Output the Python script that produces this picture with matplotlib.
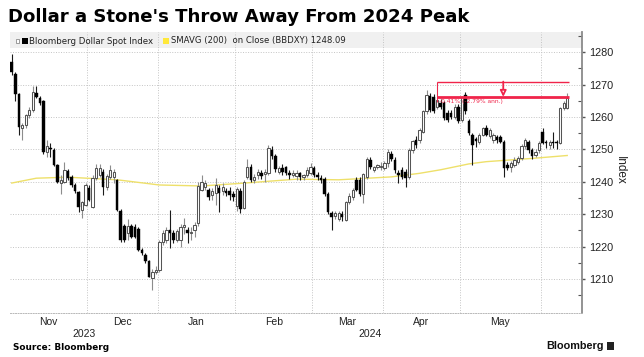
import matplotlib
matplotlib.use("Agg")
import matplotlib.pyplot as plt
from matplotlib.patches import Rectangle
from matplotlib.transforms import blended_transform_factory

# ---------------- data ----------------
opens = [1277.0, 1273.3, 1267.1, 1256.5, 1257.6, 1260.6, 1262.0, 1267.5, 1265.9, 1264.8,
         1249.3, 1250.5, 1249.8, 1245.2, 1239.6, 1240.0, 1243.4, 1241.6, 1239.0, 1236.7,
         1231.3, 1232.9, 1238.1, 1232.3, 1241.2, 1242.0, 1243.1, 1238.5, 1241.6, 1241.5,
         1240.6, 1231.1, 1226.4, 1224.1, 1226.4, 1226.0, 1225.4, 1219.0, 1217.4, 1215.4,
         1210.2, 1212.3, 1212.8, 1221.5, 1222.0, 1225.1, 1224.3, 1222.0, 1222.0, 1226.0,
         1225.1, 1224.3, 1225.1, 1227.2, 1237.5, 1238.5, 1237.5, 1236.0, 1236.5, 1238.0,
         1237.0, 1237.0, 1237.0, 1236.2, 1232.5, 1237.0, 1231.9, 1241.6, 1244.7, 1240.6,
         1242.0, 1242.8, 1242.5, 1242.7, 1249.8, 1247.8, 1243.1, 1244.2, 1244.5, 1242.6,
         1242.1, 1241.8, 1242.6, 1241.6, 1242.1, 1242.6, 1244.2, 1242.1, 1241.3, 1240.8,
         1236.2, 1230.3, 1229.5, 1228.6, 1230.1, 1228.3, 1233.6, 1235.4, 1240.6, 1240.6,
         1236.3, 1241.6, 1246.8, 1243.6, 1244.6, 1244.4, 1244.2, 1245.7, 1248.6, 1246.8,
         1242.6, 1243.7, 1243.1, 1241.6, 1249.8, 1252.9, 1252.9, 1255.5, 1261.7, 1266.5,
         1266.3, 1263.2, 1264.3, 1264.3, 1261.2, 1261.2, 1260.1, 1263.2, 1259.0, 1266.8,
         1258.6, 1254.5, 1253.1, 1252.4, 1254.5, 1256.5, 1254.0, 1252.9, 1253.8, 1253.8,
         1252.4, 1245.2, 1244.5, 1245.2, 1246.2, 1247.3, 1250.9, 1252.4, 1249.8, 1248.3,
         1249.8, 1255.5, 1252.4, 1251.4, 1252.2, 1252.4, 1251.9, 1262.7, 1262.7]
highs = [1279.5, 1274.0, 1267.5, 1258.0, 1261.0, 1263.2, 1269.4, 1269.5, 1266.5, 1265.2,
         1253.0, 1252.0, 1250.5, 1245.5, 1242.0, 1246.2, 1244.0, 1242.0, 1239.5, 1237.0,
         1234.0, 1239.5, 1239.0, 1242.0, 1245.5, 1245.5, 1244.0, 1242.5, 1245.2, 1244.0,
         1241.0, 1231.5, 1227.0, 1228.5, 1227.0, 1227.0, 1226.0, 1219.5, 1218.0, 1216.0,
         1213.0, 1214.0, 1222.0, 1225.0, 1226.0, 1231.3, 1225.0, 1225.5, 1227.0, 1228.8,
         1226.0, 1226.0, 1227.5, 1240.0, 1242.1, 1240.6, 1238.0, 1238.0, 1241.1, 1239.0,
         1239.5, 1238.0, 1238.5, 1237.0, 1238.5, 1238.0, 1240.5, 1247.0, 1245.5, 1242.5,
         1244.0, 1243.5, 1244.0, 1251.4, 1251.0, 1248.5, 1245.0, 1245.5, 1245.0, 1243.5,
         1243.5, 1243.5, 1243.0, 1242.5, 1244.5, 1245.7, 1245.0, 1243.0, 1242.0, 1241.5,
         1236.8, 1231.0, 1231.0, 1231.0, 1231.0, 1234.0, 1236.5, 1238.0, 1241.5, 1241.5,
         1242.8, 1247.5, 1247.5, 1245.0, 1245.6, 1246.0, 1246.5, 1250.0, 1249.5, 1247.5,
         1243.5, 1244.5, 1243.8, 1250.5, 1253.0, 1254.0, 1256.5, 1262.0, 1268.4, 1267.5,
         1267.0, 1270.9, 1265.5, 1265.0, 1262.0, 1262.0, 1264.0, 1264.0, 1266.5, 1267.8,
         1259.5, 1255.0, 1253.8, 1255.0, 1257.0, 1257.5, 1256.5, 1255.0, 1254.5, 1254.5,
         1253.0, 1246.0, 1246.5, 1247.5, 1248.0, 1251.5, 1253.5, 1253.0, 1250.5, 1250.0,
         1252.5, 1256.5, 1253.0, 1253.0, 1255.5, 1253.0, 1263.0, 1265.0, 1267.3]
lows = [1273.0, 1265.0, 1254.5, 1253.0, 1256.5, 1259.8, 1261.5, 1265.8, 1263.8, 1248.5,
        1247.5, 1247.5, 1245.0, 1239.5, 1236.3, 1239.5, 1240.5, 1238.5, 1236.5, 1230.8,
        1228.9, 1232.5, 1234.0, 1232.0, 1240.5, 1241.5, 1236.0, 1237.5, 1240.8, 1239.5,
        1231.0, 1221.5, 1221.5, 1222.0, 1222.5, 1222.5, 1218.5, 1217.5, 1215.0, 1210.5,
        1206.6, 1211.5, 1212.3, 1220.5, 1221.0, 1219.5, 1221.0, 1221.5, 1220.0, 1224.0,
        1221.0, 1222.0, 1223.0, 1226.5, 1237.0, 1237.5, 1234.5, 1234.5, 1232.9, 1230.8,
        1236.0, 1235.5, 1234.5, 1234.0, 1231.0, 1230.5, 1231.5, 1241.0, 1240.0, 1239.5,
        1241.0, 1241.0, 1240.0, 1242.0, 1247.0, 1243.0, 1242.5, 1242.0, 1242.0, 1241.0,
        1241.5, 1240.5, 1240.5, 1240.5, 1241.5, 1242.0, 1241.5, 1240.5, 1239.5, 1235.5,
        1230.0, 1225.2, 1228.5, 1228.0, 1228.0, 1228.0, 1233.0, 1234.5, 1237.0, 1235.5,
        1233.4, 1241.0, 1244.0, 1243.0, 1244.0, 1243.5, 1243.5, 1244.7, 1246.5, 1242.7,
        1239.6, 1241.0, 1238.5, 1241.0, 1249.0, 1250.5, 1252.0, 1255.0, 1261.0, 1261.5,
        1261.2, 1262.5, 1262.5, 1259.0, 1258.5, 1259.5, 1259.5, 1258.0, 1258.5, 1261.0,
        1254.5, 1245.2, 1250.7, 1251.5, 1254.0, 1254.0, 1253.5, 1252.0, 1252.0, 1252.0,
        1241.6, 1243.5, 1243.0, 1244.5, 1245.5, 1246.8, 1250.0, 1249.0, 1247.0, 1247.5,
        1249.0, 1251.5, 1250.5, 1250.0, 1250.5, 1250.0, 1251.5, 1262.0, 1262.5]
closes = [1274.0, 1267.1, 1257.0, 1257.6, 1260.6, 1262.0, 1267.8, 1266.3, 1264.4, 1249.3,
          1251.0, 1250.0, 1245.2, 1240.0, 1240.6, 1243.7, 1241.1, 1239.0, 1237.0, 1232.2,
          1233.6, 1239.0, 1234.4, 1241.2, 1244.3, 1244.2, 1238.5, 1241.8, 1243.6, 1243.0,
          1231.4, 1222.1, 1221.9, 1226.4, 1223.1, 1223.0, 1219.0, 1218.1, 1215.4, 1210.7,
          1212.3, 1212.8, 1221.5, 1224.2, 1225.0, 1224.3, 1222.0, 1224.8, 1226.0, 1226.8,
          1224.3, 1224.6, 1226.7, 1238.8, 1240.0, 1239.6, 1235.4, 1237.0, 1239.0, 1236.5,
          1238.5, 1236.5, 1235.9, 1235.4, 1237.7, 1231.6, 1239.9, 1244.7, 1240.6, 1241.5,
          1243.1, 1241.8, 1243.1, 1250.4, 1247.8, 1243.9, 1244.2, 1243.1, 1242.7, 1242.1,
          1242.8, 1242.8, 1241.6, 1242.0, 1243.7, 1244.4, 1242.1, 1241.6, 1240.6, 1236.2,
          1230.8, 1229.1, 1230.3, 1230.3, 1229.1, 1233.6, 1235.6, 1237.5, 1237.5, 1236.2,
          1242.3, 1247.0, 1244.5, 1244.4, 1245.2, 1245.0, 1245.7, 1249.3, 1247.0, 1243.7,
          1242.1, 1241.6, 1241.1, 1249.8, 1252.5, 1251.4, 1256.0, 1261.7, 1266.8, 1262.2,
          1261.7, 1265.3, 1263.2, 1259.6, 1259.1, 1260.1, 1263.2, 1258.6, 1266.0, 1261.7,
          1255.0, 1251.4, 1252.7, 1254.5, 1256.5, 1254.5, 1256.0, 1254.5, 1252.9, 1252.4,
          1244.2, 1244.2, 1245.7, 1246.8, 1247.3, 1250.9, 1252.9, 1249.8, 1247.8, 1249.3,
          1251.9, 1251.9, 1251.9, 1252.4, 1251.9, 1251.9, 1262.7, 1264.3, 1265.8]

# 200-day simple moving average, read at a number of candle positions
sma_idx = [0, 7, 16, 30, 42, 54, 65, 81, 93, 108, 116, 122, 130, 135, 148, 158]
sma_val = [1239.6, 1241.1, 1241.4, 1240.6, 1239.0, 1238.7, 1239.5, 1240.8, 1240.6,
           1241.5, 1242.6, 1243.7, 1245.5, 1246.2, 1247.2, 1248.1]

month_labels = ["Nov", "Dec", "Jan", "Feb", "Mar", "Apr", "May"]
month_start = [0, 22, 42, 64, 86, 106, 128, 151]   # first candle index of each month
year_labels = ["2023", "2024"]
y_ticks = [1210, 1220, 1230, 1240, 1250, 1260, 1270, 1280]

peak_level = 1270.9
last_level = 1266.0
peak_index = 121
change_text = "-0.41% (-2.79% ann.)"
sma_last = 1248.09

# ---------------- figure ----------------
W, H = 644, 357
fig = plt.figure(figsize=(W / 100, H / 100), dpi=100)
fig.patch.set_facecolor("white")

ax_l, ax_r, ax_t, ax_b = 10, 582, 32, 312.7
ax = fig.add_axes([ax_l / W, 1 - ax_b / H, (ax_r - ax_l) / W, (ax_b - ax_t) / H])
n = len(closes)
ax.set_xlim(-0.5, 162.2)
ax.set_ylim(1199.6, 1286.2)

# legend band
ax.add_patch(Rectangle((0, 0.943), 1, 0.057, transform=ax.transAxes,
                       facecolor="#f0f0f0", edgecolor="none", zorder=0))

grid_kw = dict(color="#c4c4c4", lw=0.7, ls=(0, (1, 1.6)), zorder=0.5)
for v in y_ticks:
    ax.axhline(v, **grid_kw)
for m in month_start[1:]:
    ax.axvline(m - 0.5, **grid_kw)

# candles
xs = list(range(n))
for i in xs:
    o, h, l, c = opens[i], highs[i], lows[i], closes[i]
    up = c >= o
    wick_col = "#8c8c8c" if up else "#1a1a1a"
    ax.vlines(i, l, h, color=wick_col, lw=0.8, zorder=2)
    bottom = min(o, c)
    height = max(abs(c - o), 0.3)
    if up:
        ax.bar(i, height, bottom=bottom, width=0.64, facecolor="white",
               edgecolor="#555555", linewidth=0.75, zorder=3)
    else:
        ax.bar(i, height, bottom=bottom, width=0.72, facecolor="black",
               edgecolor="black", linewidth=0.3, zorder=3)

# moving average
ax.plot(sma_idx, sma_val, color="#eee06a", lw=1.0, zorder=1.5)

# peak annotation
red = "#f0244a"
x_end = n - 0.4
ax.hlines(peak_level, peak_index, x_end, color=red, lw=1.0, zorder=5)
ax.hlines(last_level, peak_index, x_end, color=red, lw=2.0, zorder=5)
ax.vlines(peak_index, last_level - 1.5, peak_level, color=red, lw=0.7, zorder=5)
x_mid = (peak_index + x_end) / 2
ax.annotate("", xy=(x_mid, last_level + 0.2), xytext=(x_mid, peak_level),
            arrowprops=dict(arrowstyle="-|>", color=red, lw=1.3, fc="white",
                            mutation_scale=9, shrinkA=0, shrinkB=0), zorder=6)
ax.text(peak_index + 0.6, last_level - 1.2, change_text, color=red, fontsize=4.3,
        va="center", ha="left", zorder=6, family="DejaVu Sans")

# axes styling
for s in ["left", "top"]:
    ax.spines[s].set_visible(False)
ax.spines["right"].set_color("#8a8a8a")
ax.spines["right"].set_linewidth(1.3)
ax.spines["bottom"].set_color("#b8b8b8")
ax.spines["bottom"].set_linestyle((0, (1, 1.6)))
ax.spines["bottom"].set_linewidth(0.7)

ax.yaxis.tick_right()
ax.set_yticks(y_ticks)
ax.set_yticklabels([str(v) for v in y_ticks], fontsize=7.8, color="#222222",
                   family="Liberation Sans")
ax.set_yticks([v + 5 for v in [1200] + y_ticks], minor=True)
ax.tick_params(axis="y", which="major", direction="out", length=2, width=1,
               color="#555555", pad=3)
ax.tick_params(axis="y", which="minor", direction="in", length=3, width=0.8,
               color="#555555")

centers = []
for k in range(len(month_labels)):
    centers.append((month_start[k] - 0.5 + month_start[k + 1] - 0.5) / 2)
ax.set_xticks(centers)
ax.set_xticklabels(month_labels, fontsize=7.5, color="#222222", family="Liberation Sans")
ax.tick_params(axis="x", length=0, pad=3)

trans = blended_transform_factory(ax.transData, fig.transFigure)
ax.text((-0.5 + month_start[2] - 0.5) / 2, 1 - 334 / H, year_labels[0], transform=trans,
        ha="center", va="center", fontsize=7.5, color="#222222", family="Liberation Sans")
ax.text((month_start[2] - 0.5 + 162.2) / 2, 1 - 334 / H, year_labels[1], transform=trans,
        ha="center", va="center", fontsize=7.5, color="#222222", family="Liberation Sans")

fig.text(620 / W, 1 - 170 / H, "Index", rotation=-90, ha="center", va="center",
         fontsize=8.5, color="#222222", family="Liberation Sans")

# title
fig.text(8 / W, 1 - 17 / H, "Dollar a Stone's Throw Away From 2024 Peak",
         fontsize=13.1, fontweight="bold", ha="left", va="center", color="black",
         family="DejaVu Sans")

# legend row
ly = 1 - 41 / H
fig.patches.append(Rectangle((16 / W, 1 - 43 / H), 3 / W, 4 / H, transform=fig.transFigure,
                             facecolor="white", edgecolor="#777777", lw=0.5))
fig.patches.append(Rectangle((21.5 / W, 1 - 44 / H), 6 / W, 6 / H, transform=fig.transFigure,
                             facecolor="black", edgecolor="none"))
fig.text(29 / W, ly, "Bloomberg Dollar Spot Index", fontsize=6.2, color="#222222",
         va="center", ha="left", family="DejaVu Sans")
fig.patches.append(Rectangle((163 / W, 1 - 44 / H), 6 / W, 6 / H, transform=fig.transFigure,
                             facecolor="#ffe83a", edgecolor="none"))
fig.text(171 / W, ly, "SMAVG (200)  on Close (BBDXY) %.2f" % sma_last, fontsize=6.1,
         color="#222222", va="center", ha="left", family="DejaVu Sans")

# footer
fig.text(13 / W, 1 - 347 / H, "Source: Bloomberg", fontsize=6.4, fontweight="bold",
         ha="left", va="center", color="black", family="DejaVu Sans")
fig.text(604 / W, 1 - 346 / H, "Bloomberg", fontsize=7.8, fontweight="bold",
         ha="right", va="center", color="#111111", family="Liberation Sans")
fig.patches.append(Rectangle((607 / W, 1 - 350 / H), 7 / W, 8 / H, transform=fig.transFigure,
                             facecolor="#222222", edgecolor="none"))

fig.savefig("out.png", dpi=100, facecolor="white")
